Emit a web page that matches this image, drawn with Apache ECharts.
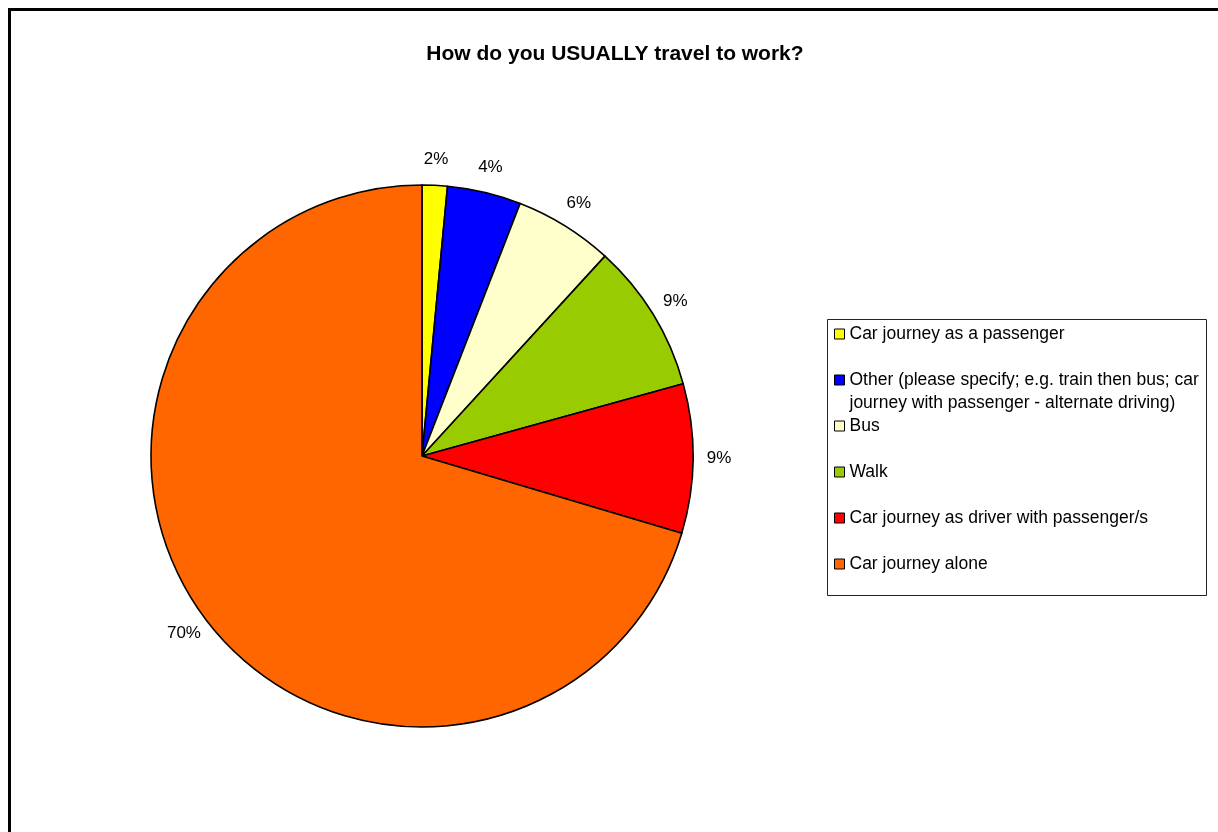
<!DOCTYPE html>
<html>
<head>
<meta charset="utf-8">
<title>How do you USUALLY travel to work?</title>
<script src="https://cdn.jsdelivr.net/npm/echarts@6/dist/echarts.min.js"></script>
<style>
  html, body { margin: 0; padding: 0; background: #fff; }
  #chart { width: 1218px; height: 832px; }
</style>
</head>
<body>
<div id="chart"></div>
<script>
// Survey answers, in pie order (clockwise from 12 o'clock)
const categories = [
  'Car journey as a passenger',
  'Other (please specify; e.g. train then bus; car journey with passenger - alternate driving)',
  'Bus',
  'Walk',
  'Car journey as driver with passenger/s',
  'Car journey alone'
];
// Share of respondents, percent
const shares = [1.5, 4.4, 5.9, 8.9, 8.9, 70.4];
const sliceColors = ['#FFFF00', '#0000FF', '#FFFFCC', '#99CC00', '#FF0000', '#FF6600'];

const FONT = "'Liberation Sans', Arial, sans-serif";
const CENTER = [422, 456];
const RADIUS = 271;

const pieData = categories.map((name, i) => ({
  name,
  value: shares[i],
  itemStyle: { color: sliceColors[i] }
}));

// One legend block per entry so every row sits on the same 46px pitch,
// even the entry whose text wraps onto a second line.
const LEGEND_LEFT = 834;
const ROW0 = 334;      // centre of first marker
const ROW_STEP = 46;
const legends = categories.map((name, i) => {
  const wraps = name.indexOf('; car ') >= 0;
  // a leading blank line keeps the marker level with the first text line
  const textStyle = wraps
    ? { fontFamily: FONT, fontSize: 17.5, color: '#000', lineHeight: 23 }
    : { fontFamily: FONT, fontSize: 17.5, color: '#000', lineHeight: 18 };
  const half = wraps ? (23 * 3) / 2 : 9;
  return {
    data: [name],
    orient: 'vertical',
    left: LEGEND_LEFT,
    top: ROW0 + ROW_STEP * i - half,
    padding: 0,
    itemWidth: 10,
    itemHeight: 10,
    icon: 'rect',
    selectedMode: false,
    itemStyle: { borderColor: '#000', borderWidth: 1 },
    formatter: n => (wraps ? '\n' + n.replace('; car ', '; car\n') : n),
    textStyle
  };
});

const chart = echarts.init(document.getElementById('chart'), null, { renderer: 'canvas' });
chart.setOption({
  animation: false,
  backgroundColor: '#fff',
  title: {
    text: 'How do you USUALLY travel to work?',
    left: 610,
    top: 39,
    textAlign: 'center',
    textStyle: { fontFamily: FONT, fontSize: 21, fontWeight: 'bold', color: '#000' }
  },
  legend: legends,
  graphic: [
    // chart frame
    { type: 'rect', silent: true, z: 100,
      shape: { x: 9.5, y: 9.5, width: 1400, height: 1000 },
      style: { fill: null, stroke: '#000', lineWidth: 3 } },
    // legend box
    { type: 'rect', silent: true, z: 0,
      shape: { x: 827.5, y: 319.5, width: 379, height: 276 },
      style: { fill: null, stroke: '#222', lineWidth: 1 } }
  ],
  series: [
    {
      type: 'pie',
      center: CENTER,
      radius: RADIUS,
      startAngle: 90,
      clockwise: true,
      silent: true,
      label: { show: false },
      labelLine: { show: false },
      itemStyle: { borderColor: '#000', borderWidth: 1.6 },
      emphasis: { disabled: true },
      data: pieData
    },
    {
      // percentage labels, centred on a ring just outside the pie
      type: 'pie',
      center: CENTER,
      radius: [278, 310],
      startAngle: 90,
      clockwise: true,
      silent: true,
      legendHoverLink: false,
      itemStyle: { color: 'rgba(0,0,0,0)', borderWidth: 0 },
      emphasis: { disabled: true },
      labelLine: { show: false },
      label: {
        show: true,
        position: 'inside',
        fontFamily: FONT,
        fontSize: 17,
        color: '#000',
        formatter: p => Math.round(p.value) + '%'
      },
      data: categories.map((name, i) => ({ name, value: shares[i] }))
    }
  ]
});
</script>
</body>
</html>
